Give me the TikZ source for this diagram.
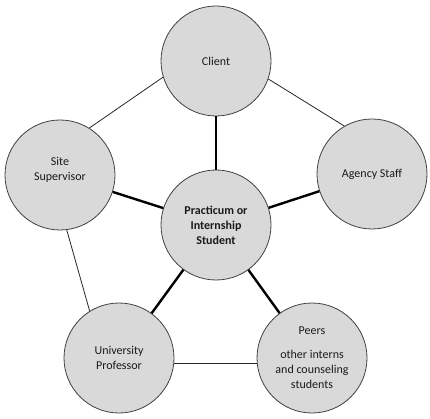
\documentclass[tikz,border=0pt]{standalone}
\usepackage{fontspec}
\setmainfont{Carlito}
\definecolor{circfill}{HTML}{D9D9D9}
\definecolor{circline}{HTML}{404040}
\definecolor{txt}{HTML}{1A1A1A}
\begin{document}
\begin{tikzpicture}[x=1pt,y=-1pt,
  circ/.style={circle,draw=circline,line width=0.8pt,fill=circfill,minimum size=110pt,inner sep=0pt,align=center,text=txt,font=\fontsize{12}{15}\selectfont},
  lbl/.style={align=center,text=txt,font=\fontsize{12}{15}\selectfont,inner sep=0pt},
  thin/.style={line width=0.8pt,draw=black!85},
  spoke/.style={line width=2.4pt,draw=black}]
\useasboundingbox (0,0) rectangle (430,419);
\node[circ] (c) at (216,61) {Client};
\node[circ] (s) at (60,175) {};
\node[lbl] (st) at (60,170) {Site\\Supervisor};
\node[circ] (a) at (372,174) {Agency Staff};
\node[circ] (u) at (119,358) {University\\Professor};
\node[circ] (p) at (312,358) {Peers\\[9pt]other interns\\and counseling\\students};
\node[circ,font=\fontsize{12}{15}\selectfont\bfseries] (m) at (216,225) {Practicum or\\Internship\\Student};
\draw[thin] (c.-163) -- (s.58);
\draw[thin] (c.-19) -- (a.120);
\draw[thin] (s.-83) -- (u.122);
\draw[thin] (u.-6) -- (p.186);
\draw[spoke] (m) -- (c);
\draw[spoke] (m) -- (s);
\draw[spoke] (m) -- (a);
\draw[spoke] (m) -- (u);
\draw[spoke] (m) -- (p);
\end{tikzpicture}
\end{document}
